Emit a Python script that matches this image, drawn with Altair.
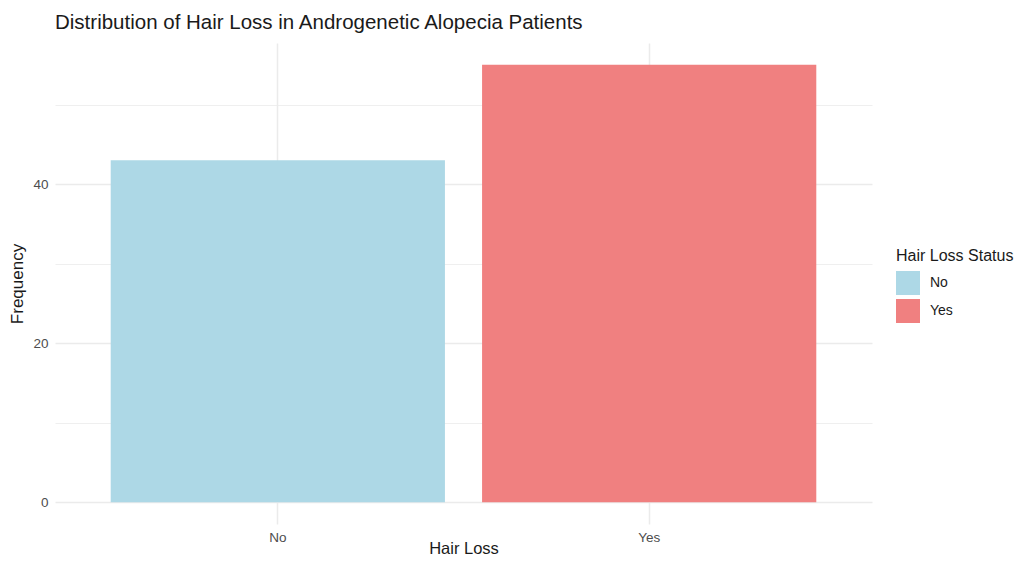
import altair as alt
import pandas as pd

categories = ["No", "Yes"]
counts = [43, 55]
colors = ["#ADD8E6", "#F08080"]

df = pd.DataFrame({"loss": categories, "count": counts})

FONT = "Liberation Sans"

bars = alt.Chart(df).mark_bar().encode(
    x=alt.X(
        "loss:N",
        title="Hair Loss",
        sort=categories,
        scale=alt.Scale(paddingInner=0.1, paddingOuter=0.15),
        axis=alt.Axis(
            grid=True, bandPosition=0.5, ticks=False, domain=False,
            labelAngle=0, labelColor="#4D4D4D", labelFontSize=13.5, labelPadding=6,
            titleColor="#1A1A1A", titleFontSize=16.5, titleBaseline="alphabetic", titleY=29,
            gridColor="#EBEBEB", gridWidth=1.5,
        ),
    ),
    y=alt.Y(
        "count:Q",
        title="Frequency",
        scale=alt.Scale(domain=[-2.75, 57.75], nice=False, zero=False),
        axis=alt.Axis(
            values=[0, 10, 20, 30, 40, 50],
            labelExpr="datum.value % 20 === 0 ? datum.label : ''",
            ticks=False, domain=False,
            labelColor="#4D4D4D", labelFontSize=13.5, labelPadding=7,
            titleColor="#1A1A1A", titleFontSize=17, titlePadding=6,
            gridColor="#EBEBEB",
            gridWidth={"condition": {"test": "datum.value % 20 === 0", "value": 1.5}, "value": 0.8},
        ),
    ),
    y2=alt.datum(0),
    color=alt.Color(
        "loss:N",
        title="Hair Loss Status",
        scale=alt.Scale(domain=categories, range=colors),
        legend=alt.Legend(
            orient="none", legendX=841, legendY=205,
            symbolType="square", symbolSize=576, symbolStrokeWidth=0, symbolOpacity=1,
            titleFontSize=16, titleFontWeight="normal", titleColor="#1A1A1A", titlePadding=7,
            labelFontSize=14, labelColor="#1A1A1A", labelOffset=10, rowPadding=4,
        ),
    ),
)

chart = bars.properties(
    width=817,
    height=481,
    autosize=alt.AutoSizeParams(type="none"),
    padding={"left": 47, "top": 35, "right": 145, "bottom": 31},
    title=alt.TitleParams(
        "Distribution of Hair Loss in Androgenetic Alopecia Patients",
        anchor="start", frame="group", fontSize=20.5, fontWeight="normal", color="#1A1A1A",
        font=FONT, offset=10,
    ),
).configure(font=FONT).configure_view(stroke=None).configure_axis(
    labelFont=FONT, titleFont=FONT, titleFontWeight="normal"
).configure_legend(labelFont=FONT, titleFont=FONT)

chart.save("out.html", embed_options={"renderer": "svg", "actions": False})
